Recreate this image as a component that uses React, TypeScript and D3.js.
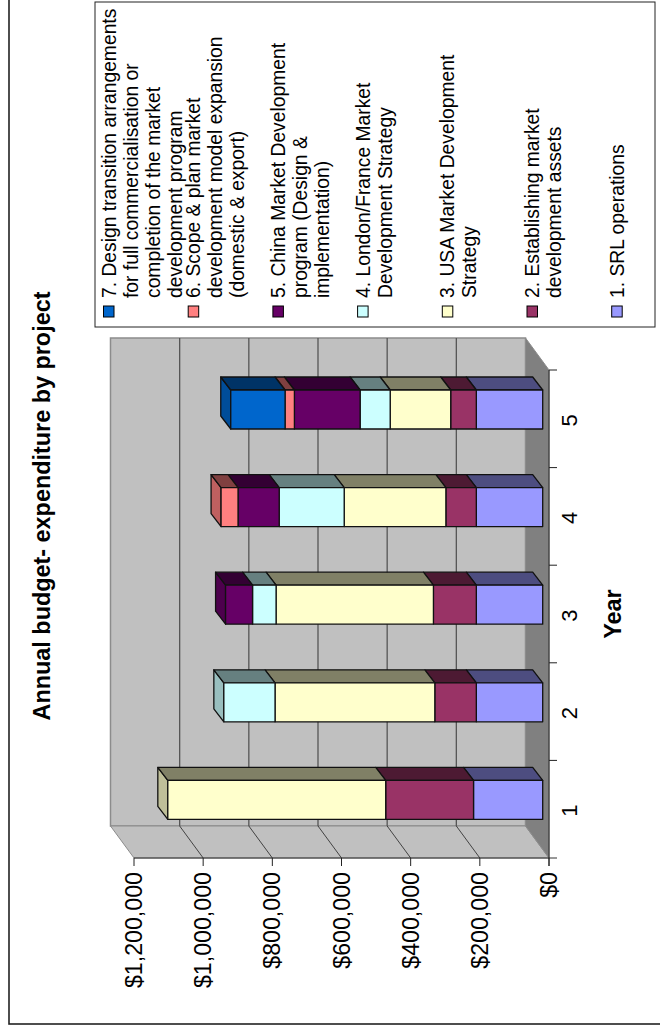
import React from "react";
import * as d3 from "d3";

const categories = ["1", "2", "3", "4", "5"];
const valueTicks = [0, 200000, 400000, 600000, 800000, 1000000, 1200000];

const srlOperations = [200000, 192000, 192000, 192000, 192000];
const marketAssets = [254000, 120000, 124000, 88000, 74000];
const usaStrategy = [630000, 462000, 455000, 294000, 175000];
const londonFrance = [0, 148000, 68000, 188000, 87000];
const chinaProgram = [0, 0, 78000, 119000, 190000];
const scopePlan = [0, 0, 0, 49000, 27000];
const transition = [0, 0, 0, 0, 157000];

const seriesNames = [
  ["1. SRL operations"],
  ["2. Establishing market", "development assets"],
  ["3. USA Market Development", "Strategy"],
  ["4. London/France Market", "Development Strategy"],
  ["5. China Market Development", "program (Design &", "implementation)"],
  ["6. Scope & plan market", "development model expansion", "(domestic & export)"],
  ["7. Design transition arrangements", "for full commercialisation or", "completion of the market", "development program"],
];
const seriesValues = [srlOperations, marketAssets, usaStrategy, londonFrance, chinaProgram, scopePlan, transition];
const seriesColors = ["#9999FF", "#993366", "#FFFFCC", "#CCFFFF", "#660066", "#FF8080", "#0066CC"];

const FONT = "'Liberation Sans', Arial, sans-serif";

// The whole plot is laid out turned a quarter to the left: values run right to left, years top to bottom.
const frontX = d3.scaleLinear().domain([0, 1200000]).range([549, 134]);
const yearY = d3.scaleBand().domain([...categories].reverse()).range([370, 858]);
const wallDepth = { x: 23.5, y: 32 };
const barDepth = { x: 10, y: 13 };
const barInset = 6.3;
const barFront = { offset: 20, size: 39 };

const pts = (p: [number, number][]) => p.map((c) => c.join(",")).join(" ");
const shade = (c: string, k: number) => {
  const r = d3.rgb(c);
  return d3.rgb(r.r * k, r.g * k, r.b * k).formatHex();
};

function Rotated({ x, y, size, weight, anchor, children }: any) {
  return (
    <text
      transform={`translate(${x},${y}) rotate(-90)`}
      fontFamily={FONT}
      fontSize={size}
      fontWeight={weight ?? "normal"}
      textAnchor={anchor ?? "start"}
      fill="#000"
    >
      {children}
    </text>
  );
}

export default function App() {
  const rows = categories.map((cat, ci) => {
    const row: any = { cat };
    seriesValues.forEach((vals, si) => (row[si] = vals[ci]));
    return row;
  });
  const stacked = d3.stack<any>().keys(seriesValues.map((_, i) => String(i)))(rows);
  const layers = categories.map((cat, ci) => ({
    cat,
    segs: stacked
      .map((layer, si) => ({ si, v0: layer[ci][0], v1: layer[ci][1] }))
      .filter((s) => s.v1 > s.v0),
  }));

  const floorY = 858;
  const rightX = frontX(0);
  const leftX = frontX(1200000);
  const wallBottom = floorY - wallDepth.y;
  const wallTop = yearY.range()[0] - wallDepth.y;

  return (
    <svg width={660} height={1032} style={{ position: "absolute", left: 0, top: 0, display: "block" }}>
      <rect width={660} height={1032} fill="#fff" />
      <rect x={9} y={-4} width={660} height={1028} fill="#fff" stroke="#222" strokeWidth={1.6} />

      {/* walls */}
      <rect x={leftX - wallDepth.x} y={wallTop} width={rightX - leftX} height={wallBottom - wallTop} fill="#C0C0C0" stroke="#8c8c8c" strokeWidth={1.5} />
      <polygon points={pts([[leftX - wallDepth.x, wallBottom], [rightX - wallDepth.x, wallBottom], [rightX, floorY], [leftX, floorY]])} fill="#C0C0C0" stroke="#8c8c8c" strokeWidth={1} />
      <polygon points={pts([[rightX - wallDepth.x, wallTop], [rightX, wallTop + wallDepth.y], [rightX, floorY], [rightX - wallDepth.x, wallBottom]])} fill="#808080" stroke="#8c8c8c" strokeWidth={1} />

      {/* gridlines */}
      {valueTicks.slice(1, -1).map((t) => (
        <g key={t}>
          <line x1={frontX(t) - wallDepth.x} x2={frontX(t) - wallDepth.x} y1={wallTop} y2={wallBottom} stroke="#555" strokeWidth={1.3} />
          <line x1={frontX(t) - wallDepth.x} x2={frontX(t)} y1={wallBottom} y2={floorY} stroke="#222" strokeWidth={0.8} />
        </g>
      ))}

      {/* axes */}
      <line x1={leftX} x2={rightX + 8} y1={floorY} y2={floorY} stroke="#333" strokeWidth={1} />
      <line x1={rightX} x2={rightX} y1={wallTop + wallDepth.y} y2={floorY + 8} stroke="#222" strokeWidth={1} />
      {valueTicks.map((t) => (
        <g key={t}>
          <line x1={frontX(t)} x2={frontX(t)} y1={floorY} y2={floorY + 8} stroke="#222" strokeWidth={1} />
          <Rotated x={frontX(t) + 8} y={872} size={23.2} anchor="end">{d3.format("$,")(t)}</Rotated>
        </g>
      ))}
      {categories.map((c) => (
        <line key={c} x1={rightX} x2={rightX + 8} y1={yearY(c)!} y2={yearY(c)!} stroke="#222" strokeWidth={1} />
      ))}
      {categories.map((c) => (
        <Rotated key={c} x={rightX + 28} y={yearY(c)! + yearY.bandwidth() / 2 + 1.5} size={22} anchor="middle">{c}</Rotated>
      ))}

      {/* stacked bars */}
      {layers.map(({ cat, segs }) => {
        const y0 = yearY(cat)! + barFront.offset;
        const y1 = y0 + barFront.size;
        const xs = (v: number) => frontX(v) - barInset;
        const last = segs[segs.length - 1];
        return (
          <g key={cat} stroke="#111" strokeWidth={1.3} strokeLinejoin="round">
            <polygon
              points={pts([[xs(last.v1), y0], [xs(last.v1) - barDepth.x, y0 - barDepth.y], [xs(last.v1) - barDepth.x, y1 - barDepth.y], [xs(last.v1), y1]])}
              fill={shade(seriesColors[last.si], 0.75)}
            />
            {segs.map((s) => (
              <g key={s.si}>
                <polygon
                  points={pts([[xs(s.v0), y0], [xs(s.v0) - barDepth.x, y0 - barDepth.y], [xs(s.v1) - barDepth.x, y0 - barDepth.y], [xs(s.v1), y0]])}
                  fill={shade(seriesColors[s.si], 0.5)}
                />
                <rect x={xs(s.v1)} y={y0} width={xs(s.v0) - xs(s.v1)} height={barFront.size} fill={seriesColors[s.si]} />
              </g>
            ))}
          </g>
        );
      })}

      {/* titles */}
      <Rotated x={50} y={506} size={23.4} weight="bold" anchor="middle">Annual budget- expenditure by project</Rotated>
      <Rotated x={621} y={614} size={23.4} weight="bold" anchor="middle">Year</Rotated>

      {/* legend, listed from the last series down to the first */}
      <rect x={95} y={2} width={560} height={325} fill="#fff" stroke="#222" strokeWidth={1} />
      {seriesNames.map((lines, si) => {
        const base = 115.5 + (6 - si) * 84.7;
        return (
          <g key={si}>
            <rect x={base - 12} y={306} width={10.5} height={11} fill={seriesColors[si]} stroke="#000" strokeWidth={1} />
            {lines.map((l, li) => (
              <Rotated key={li} x={base + li * 22} y={298} size={19.3}>{l}</Rotated>
            ))}
          </g>
        );
      })}
    </svg>
  );
}
